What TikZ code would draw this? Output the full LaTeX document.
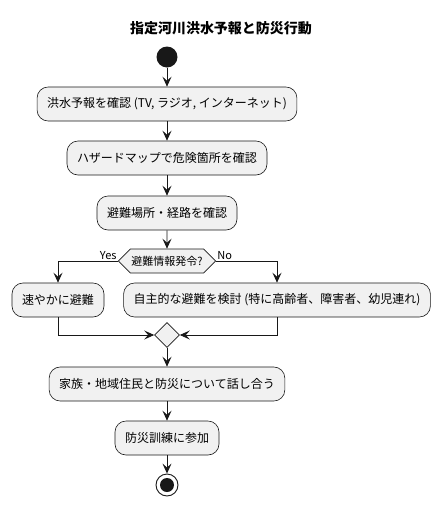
\documentclass[tikz,border=0pt]{standalone}
\usepackage{fontspec}
\setmainfont{Noto Sans CJK JP}
\usetikzlibrary{arrows.meta,shapes.geometric,shapes.symbols}
\definecolor{boxfill}{HTML}{F1F1F1}
\definecolor{edge}{HTML}{181818}
\tikzset{
  act/.style={draw=edge,fill=boxfill,rounded corners=11pt,line width=0.6pt,
    minimum height=34pt,inner xsep=10pt,font=\fontsize{12}{14}\selectfont},
  flow/.style={draw=edge,line width=0.9pt,-{Stealth[length=10pt,width=9pt,inset=4pt]}},
  lbl/.style={font=\fontsize{11}{13}\selectfont,inner sep=1pt}
}
\begin{document}
\begin{tikzpicture}[x=1pt,y=-1pt]
  \useasboundingbox (0,0) rectangle (442,507);
  \node[font=\bfseries\fontsize{14}{16}\selectfont] (title) at (221,28) {指定河川洪水予報と防災行動};
  \node[circle,fill=edge,minimum size=21pt,inner sep=0pt] (start) at (167,57) {};
  \node[act] (forecast) at (167,104) {洪水予報を確認 (TV, ラジオ, インターネット)};
  \node[act] (hazmap) at (167,158) {ハザードマップで危険箇所を確認};
  \node[act] (route) at (167,213) {避難場所・経路を確認};
  \node[signal,signal to=west and east,draw=edge,fill=boxfill,line width=0.6pt,
    minimum height=24pt,inner xsep=1pt,font=\fontsize{11}{13}\selectfont] (order) at (167,261) {避難情報発令?};
  \node[act] (evacnow) at (58,300) {速やかに避難};
  \node[act] (selfevac) at (277,300) {自主的な避難を検討 (特に高齢者、障害者、幼児連れ)};
  \node[diamond,draw=edge,fill=boxfill,line width=0.6pt,minimum size=25pt,inner sep=0pt] (merge) at (167,335) {};
  \node[act] (talk) at (167,384) {家族・地域住民と防災について話し合う};
  \node[act] (drill) at (167,438) {防災訓練に参加};
  \node[circle,draw=edge,fill=white,line width=0.9pt,minimum size=22pt,inner sep=0pt] (stop) at (167,485) {};
  \fill[edge] (stop.center) circle (7);
  % arrows
  \foreach \a/\b in {start/forecast,forecast/hazmap,hazmap/route,route/order,merge/talk,talk/drill,drill/stop}{
    \draw[flow] (\a) -- (\b);}
  \draw[flow] (order.west) -| (evacnow.north) node[lbl,pos=0,anchor=south east] {Yes};
  \draw[flow] (order.east) -| (selfevac.north) node[lbl,pos=0,anchor=south west] {No};
  \draw[flow] (evacnow.south) |- (merge.west);
  \draw[flow] (selfevac.south) |- (merge.east);
\end{tikzpicture}
\end{document}
